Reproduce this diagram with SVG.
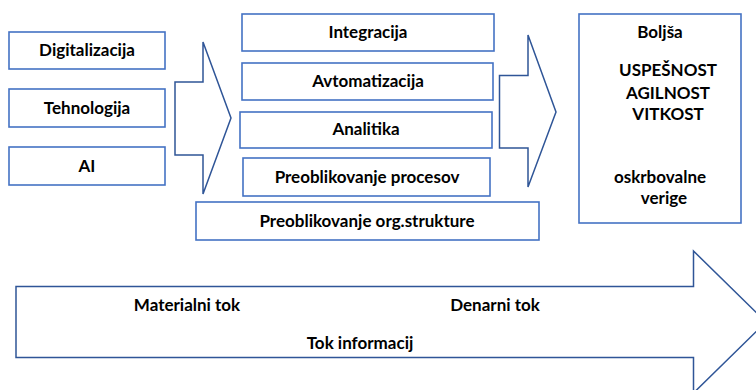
<svg xmlns="http://www.w3.org/2000/svg" width="756" height="390" viewBox="0 0 756 390">
<style>
.box{fill:#fff;stroke:#4472C4;stroke-width:1.6}
.arr{fill:#fff;stroke:#2F5597;stroke-width:1.5;stroke-linejoin:miter}
text{font-family:Lato,"Open Sans","Liberation Sans",sans-serif;font-weight:bold;font-size:17px;fill:#000;text-anchor:middle}
</style>
<rect width="756" height="390" fill="#fff"/>
<g id="connectors">
<path class="arr" d="M175,82 H203 V42 L231,118 L203,194 V155 H175 Z"/>
<path class="arr" d="M499.5,75.5 H528 V35 L556,112 L528,187 V148 H499.5 Z"/>
</g>
<g id="n-digitalizacija"><rect class="box" x="9" y="32" width="156" height="37"/><text x="87" y="56">Digitalizacija</text></g>
<g id="n-tehnologija"><rect class="box" x="9" y="89" width="156" height="38"/><text x="87" y="114">Tehnologija</text></g>
<g id="n-ai"><rect class="box" x="9" y="147" width="156" height="38"/><text x="87" y="172">AI</text></g>
<g id="n-integracija"><rect class="box" x="242" y="14" width="252" height="37"/><text x="368" y="38">Integracija</text></g>
<g id="n-avtomatizacija"><rect class="box" x="242" y="63" width="251" height="37"/><text x="368" y="87">Avtomatizacija</text></g>
<g id="n-analitika"><rect class="box" x="240" y="112" width="252" height="36"/><text x="366" y="135">Analitika</text></g>
<g id="n-procesov"><rect class="box" x="243" y="158" width="247" height="38"/><text x="367" y="183">Preoblikovanje procesov</text></g>
<g id="n-org"><rect class="box" x="196" y="202" width="343" height="38"/><text x="367" y="227">Preoblikovanje org.strukture</text></g>
<g id="n-result"><rect class="box" x="579" y="14" width="162" height="209"/>
<text x="660" y="38">Boljša</text>
<text x="668" y="76">USPEŠNOST</text>
<text x="668" y="98.5">AGILNOST</text>
<text x="668" y="120">VITKOST</text>
<text x="660" y="183">oskrbovalne</text>
<text x="664" y="204">verige</text>
</g>
<g id="n-flow">
<path class="arr" d="M16,286.5 H693.5 V251 L766,322 L693.5,393 V357.5 H16 Z"/>
<text x="187" y="311">Materialni tok</text>
<text x="495" y="311">Denarni tok</text>
<text x="360" y="349">Tok informacij</text>
</g>
</svg>
